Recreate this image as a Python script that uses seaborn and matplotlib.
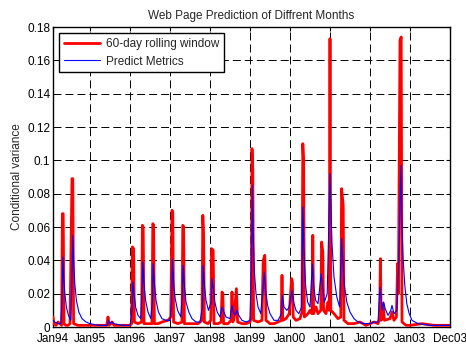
import matplotlib
matplotlib.use("Agg")
import matplotlib.pyplot as plt
import seaborn as sns
import pandas as pd

# ---------------- data ----------------
red_years = [1994.075, 1994.10, 1994.15, 1994.20, 1994.25, 1994.29, 1994.31, 1994.33, 1994.35, 1994.40,
             1994.45, 1994.50, 1994.55, 1994.57, 1994.59, 1994.70, 1995.00, 1995.20, 1995.42, 1995.45,
             1995.48, 1995.55, 1995.60, 1995.80, 1996.00, 1996.04, 1996.06, 1996.09, 1996.11, 1996.20,
             1996.29, 1996.31, 1996.33, 1996.35, 1996.45, 1996.55, 1996.57, 1996.59, 1996.61, 1996.70,
             1996.80, 1996.95, 1997.02, 1997.05, 1997.07, 1997.09, 1997.20, 1997.30, 1997.32, 1997.34,
             1997.36, 1997.50, 1997.60, 1997.70, 1997.80, 1997.82, 1997.84, 1997.86, 1997.95, 1998.02,
             1998.04, 1998.08, 1998.10, 1998.20, 1998.28, 1998.30, 1998.32, 1998.34, 1998.45, 1998.53,
             1998.55, 1998.57, 1998.60, 1998.66, 1998.69, 1998.80, 1998.90, 1999.00, 1999.03, 1999.05,
             1999.07, 1999.09, 1999.20, 1999.30, 1999.33, 1999.37, 1999.40, 1999.50, 1999.60, 1999.70,
             1999.78, 1999.80, 1999.82, 1999.90, 1999.98, 2000.04, 2000.06, 2000.08, 2000.15, 2000.25,
             2000.30, 2000.32, 2000.34, 2000.36, 2000.45, 2000.50, 2000.55, 2000.57, 2000.59, 2000.65,
             2000.70, 2000.77, 2000.79, 2000.82, 2000.84, 2000.90, 2000.95, 2000.98, 2001.00, 2001.02,
             2001.10, 2001.20, 2001.27, 2001.29, 2001.33, 2001.35, 2001.45, 2001.60, 2001.75, 2001.90,
             2002.00, 2002.10, 2002.20, 2002.24, 2002.26, 2002.28, 2002.33, 2002.36, 2002.50, 2002.55,
             2002.60, 2002.66, 2002.69, 2002.71, 2002.75, 2002.78, 2002.80, 2002.90, 2003.00, 2003.30,
             2003.60, 2004.00]
red_vals = [0.006, 0.002, 0.001, 0.003, 0.002, 0.001, 0.068, 0.068, 0.002, 0.001,
            0.001, 0.002, 0.089, 0.089, 0.002, 0.001, 0.001, 0.001, 0.001, 0.006,
            0.001, 0.003, 0.001, 0.001, 0.001, 0.002, 0.048, 0.047, 0.003, 0.002,
            0.003, 0.061, 0.060, 0.002, 0.002, 0.002, 0.062, 0.061, 0.002, 0.002,
            0.003, 0.004, 0.006, 0.070, 0.069, 0.003, 0.002, 0.003, 0.061, 0.060,
            0.002, 0.002, 0.002, 0.002, 0.004, 0.067, 0.055, 0.003, 0.002, 0.004,
            0.047, 0.046, 0.002, 0.002, 0.003, 0.021, 0.020, 0.002, 0.002, 0.004,
            0.021, 0.003, 0.005, 0.023, 0.003, 0.002, 0.002, 0.003, 0.006, 0.107,
            0.095, 0.004, 0.003, 0.004, 0.040, 0.043, 0.004, 0.002, 0.002, 0.003,
            0.004, 0.031, 0.004, 0.005, 0.008, 0.029, 0.027, 0.006, 0.004, 0.005,
            0.009, 0.110, 0.100, 0.006, 0.008, 0.010, 0.008, 0.055, 0.008, 0.012,
            0.008, 0.010, 0.051, 0.045, 0.010, 0.008, 0.015, 0.010, 0.173, 0.010,
            0.008, 0.005, 0.006, 0.083, 0.073, 0.004, 0.002, 0.002, 0.003, 0.001,
            0.002, 0.003, 0.002, 0.005, 0.041, 0.004, 0.014, 0.004, 0.005, 0.009,
            0.004, 0.006, 0.038, 0.020, 0.172, 0.174, 0.003, 0.001, 0.001, 0.002,
            0.001, 0.001]

blue_years = [1994.075, 1994.12, 1994.20, 1994.27, 1994.30, 1994.32, 1994.34, 1994.37, 1994.41, 1994.46,
              1994.52, 1994.55, 1994.57, 1994.59, 1994.62, 1994.66, 1994.72, 1994.80, 1994.90, 1995.00,
              1995.20, 1995.44, 1995.46, 1995.50, 1995.55, 1995.60, 1995.80, 1996.00, 1996.05, 1996.07,
              1996.10, 1996.14, 1996.20, 1996.27, 1996.30, 1996.32, 1996.35, 1996.39, 1996.45, 1996.52,
              1996.56, 1996.58, 1996.61, 1996.65, 1996.71, 1996.80, 1996.90, 1997.00, 1997.04, 1997.06,
              1997.09, 1997.13, 1997.19, 1997.27, 1997.31, 1997.33, 1997.36, 1997.40, 1997.47, 1997.55,
              1997.65, 1997.75, 1997.81, 1997.83, 1997.86, 1997.90, 1997.96, 1998.03, 1998.05, 1998.08,
              1998.12, 1998.18, 1998.25, 1998.30, 1998.33, 1998.40, 1998.50, 1998.55, 1998.58, 1998.63,
              1998.67, 1998.72, 1998.80, 1998.90, 1999.00, 1999.04, 1999.06, 1999.08, 1999.11, 1999.15,
              1999.20, 1999.27, 1999.33, 1999.36, 1999.39, 1999.44, 1999.50, 1999.60, 1999.70, 1999.79,
              1999.81, 1999.85, 1999.92, 1999.98, 2000.05, 2000.09, 2000.15, 2000.22, 2000.29, 2000.32,
              2000.35, 2000.39, 2000.44, 2000.50, 2000.56, 2000.59, 2000.64, 2000.70, 2000.78, 2000.81,
              2000.86, 2000.93, 2000.97, 2001.00, 2001.02, 2001.05, 2001.10, 2001.17, 2001.24, 2001.29,
              2001.32, 2001.36, 2001.42, 2001.50, 2001.60, 2001.70, 2001.85, 2002.00, 2002.10, 2002.20,
              2002.25, 2002.28, 2002.31, 2002.34, 2002.38, 2002.45, 2002.52, 2002.55, 2002.60, 2002.67,
              2002.72, 2002.77, 2002.80, 2002.83, 2002.87, 2002.92, 2002.98, 2003.05, 2003.20, 2003.50,
              2004.00]
blue_vals = [0.004, 0.003, 0.002, 0.002, 0.015, 0.042, 0.030, 0.020, 0.012, 0.007,
             0.004, 0.030, 0.055, 0.040, 0.026, 0.016, 0.009, 0.005, 0.003, 0.002,
             0.001, 0.001, 0.004, 0.002, 0.003, 0.002, 0.001, 0.001, 0.010, 0.027,
             0.020, 0.012, 0.007, 0.005, 0.020, 0.039, 0.026, 0.016, 0.009, 0.005,
             0.015, 0.038, 0.026, 0.016, 0.009, 0.005, 0.004, 0.004, 0.015, 0.041,
             0.027, 0.017, 0.010, 0.006, 0.020, 0.037, 0.025, 0.015, 0.009, 0.005,
             0.003, 0.003, 0.012, 0.037, 0.025, 0.016, 0.010, 0.015, 0.029, 0.024,
             0.015, 0.009, 0.006, 0.012, 0.010, 0.006, 0.005, 0.013, 0.009, 0.007,
             0.010, 0.007, 0.004, 0.003, 0.004, 0.040, 0.085, 0.055, 0.033, 0.020,
             0.012, 0.008, 0.025, 0.033, 0.022, 0.013, 0.008, 0.004, 0.004, 0.008,
             0.019, 0.012, 0.010, 0.012, 0.022, 0.015, 0.010, 0.008, 0.012, 0.072,
             0.045, 0.025, 0.015, 0.012, 0.038, 0.025, 0.016, 0.014, 0.032, 0.025,
             0.015, 0.020, 0.060, 0.092, 0.075, 0.050, 0.030, 0.018, 0.012, 0.053,
             0.040, 0.025, 0.015, 0.009, 0.005, 0.003, 0.002, 0.002, 0.003, 0.003,
             0.024, 0.017, 0.010, 0.015, 0.011, 0.007, 0.010, 0.013, 0.008, 0.010,
             0.040, 0.097, 0.060, 0.040, 0.025, 0.014, 0.008, 0.004, 0.002, 0.001,
             0.001]

tick_years = [1994.075, 1995, 1996, 1997, 1998, 1999, 2000, 2001, 2002, 2003, 2004.0]
tick_labels = ["Jan94", "Jan95", "Jan96", "Jan97", "Jan98", "Jan99", "Jan00",
               "Jan01", "Jan02", "Jan03", "Dec03"]
y_ticks = [0, 0.02, 0.04, 0.06, 0.08, 0.1, 0.12, 0.14, 0.16, 0.18]
y_labels = ["0", "0.02", "0.04", "0.06", "0.08", "0.1", "0.12", "0.14", "0.16", "0.18"]

series_names = ["60-day rolling window", "Predict Metrics"]

# ---------------- figure ----------------
sns.set_style("white")
plt.rcParams["font.family"] = ["Liberation Sans", "DejaVu Sans"]
plt.rcParams["font.size"] = 8.5

fig = plt.figure(figsize=(4.66, 3.44), dpi=100)
ax = fig.add_axes([53 / 466, 17 / 344, 397 / 466, 300 / 344])

red_df = pd.DataFrame({"year": red_years, "value": red_vals})
blue_df = pd.DataFrame({"year": blue_years, "value": blue_vals})

sns.lineplot(data=red_df, x="year", y="value", ax=ax, color="#ff0000",
             linewidth=2.0, label=series_names[0], estimator=None, sort=False, zorder=3)
sns.lineplot(data=blue_df, x="year", y="value", ax=ax, color="#0000ff",
             linewidth=0.8, label=series_names[1], estimator=None, sort=False, zorder=4)

ax.set_xlim(tick_years[0], tick_years[-1])
ax.set_ylim(0, 0.18)
ax.set_xticks(tick_years)
ax.set_xticklabels(tick_labels)
ax.set_yticks(y_ticks)
ax.set_yticklabels(y_labels)

ax.grid(True, color="black", linewidth=0.7, linestyle=(0, (8.2, 4.1)), zorder=1)
ax.set_axisbelow(True)

for sp in ax.spines.values():
    sp.set_visible(True)
    sp.set_color("black")
    sp.set_linewidth(1.0)

ax.tick_params(axis="both", direction="in", length=3, width=0.8, top=True, right=True,
               labelsize=8.5, colors="black")
ax.tick_params(axis="x", pad=4.6)
ax.tick_params(axis="y", pad=2)

ax.set_xlabel("")
ax.set_ylabel("Conditional variance", fontsize=8.5, labelpad=3)
ax.set_title("Web Page Prediction of Diffrent Months", fontsize=8.5, pad=6)

leg = ax.legend(loc="upper left", fontsize=8.5, frameon=True, fancybox=False,
                framealpha=1, edgecolor="black", handlelength=3.0,
                borderaxespad=0.55, labelspacing=0.45, borderpad=0.4, handletextpad=0.5)
leg.get_frame().set_linewidth(1.0)

fig.savefig("out.png", dpi=100)
